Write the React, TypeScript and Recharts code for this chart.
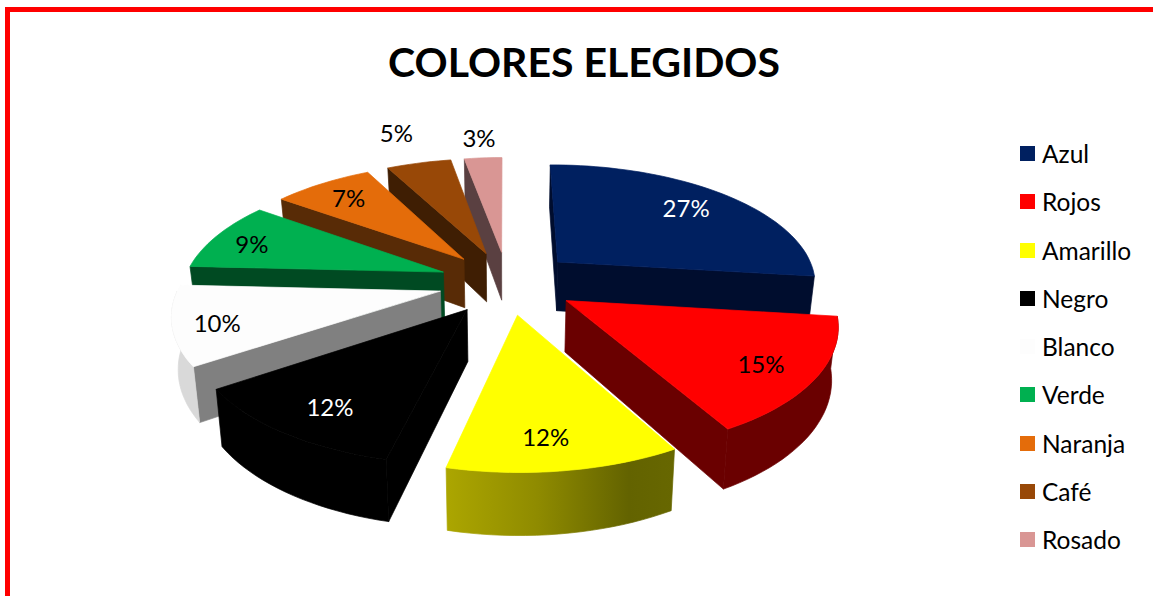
import { PieChart, Pie, Legend } from 'recharts';

const FONT = 'Lato, "Open Sans", sans-serif';

// legend order
const categories = ['Azul', 'Rojos', 'Amarillo', 'Negro', 'Blanco', 'Verde', 'Naranja', 'Café', 'Rosado'];
// shares; the labels show them rounded
const shares = [27, 15, 11.7, 11.9, 10.3, 9.2, 7.4, 4.8, 2.8];
const topColors = ['#002060', '#ff0000', '#ffff00', '#000000', '#fdfdfd', '#00b050', '#e46c0a', '#984807', '#d99694'];
const wallColors = ['#000d2e', '#6a0000', 'url(#yellowWall)', '#000000', '#808080', '#004a22', '#582b06', '#3f1e03', '#5a4041'];
const outerWallColors = ['#000d2e', '#6a0000', 'url(#yellowWall)', '#000000', '#d9d9d9', '#004a22', '#582b06', '#3f1e03', '#5a4041'];
const labelColors = ['#ffffff', '#000000', '#000000', '#ffffff', '#000000', '#000000', '#000000', '#000000', '#000000'];
// label distance from the pie centre, in radii (5% and 3% sit outside the pie)
const labelRadii = [1.04, 1.07, 1.07, 1.06, 1.105, 1.095, 1.06, 1.67, 1.53];
const labelTurns = [-1, 1, 1.5, -1, -1, -1, 0, 0, 0];

// slices are painted back to front, so the pie walks counter-clockwise from the end of Azul
const drawOrder = [0, 8, 7, 6, 5, 4, 3, 2, 1];
const pieData = drawOrder.map((i) => ({
  name: categories[i],
  value: shares[i],
  top: topColors[i],
  wall: wallColors[i],
  outerWall: outerWallColors[i],
  labelColor: labelColors[i],
  labelRadius: labelRadii[i],
  labelTurn: labelTurns[i],
}));

// 3D view
const TILT_Y = 0.459; // vertical squash of the disc
const PERSPECTIVE = 0.164;
const EXPLODE = 0.265;
const DEPTH = 50;
const BOTTOM_SHRINK = 0.98;

type Pt = [number, number];

// u, v are disc coordinates in radii: u to the right, v towards the viewer
function project(cx: number, cy: number, r: number, u: number, v: number): Pt {
  const s = 1 / (1 - PERSPECTIVE * v);
  return [cx + r * u * s, cy + r * TILT_Y * v * s];
}

function lower(cx: number, v: number, p: Pt): Pt {
  const s = 1 / (1 - PERSPECTIVE * v);
  return [cx + (p[0] - cx) * BOTTOM_SHRINK, p[1] + DEPTH * s];
}

const toPath = (pts: Pt[]) =>
  pts.map((p, i) => `${i ? 'L' : 'M'}${p[0].toFixed(1)},${p[1].toFixed(1)}`).join('') + 'Z';

const rad = (deg: number) => (deg * Math.PI) / 180;

// clockwise degrees from the top -> disc coordinates
const discU = (t: number) => Math.sin(rad(t));
const discV = (t: number) => -Math.cos(rad(t));

function Slice3D(props: any) {
  const { cx, cy, outerRadius: r, startAngle, endAngle, payload } = props;
  // recharts gives math angles going counter-clockwise; bring them to 0..360 clockwise
  const shift = 90 - endAngle < -0.01 ? 360 : 0;
  const t0 = 90 - endAngle + shift;
  const t1 = 90 - startAngle + shift;
  const mid = (t0 + t1) / 2;
  const ou = EXPLODE * discU(mid);
  const ov = EXPLODE * discV(mid);

  const pointAt = (t: number): [number, number] => [ou + discU(t), ov + discV(t)];
  const prj = (uv: [number, number]) => project(cx, cy, r, uv[0], uv[1]);

  const tip = prj([ou, ov]);
  const tipLow = lower(cx, ov, tip);
  const arc: Pt[] = [];
  for (let t = t0; t < t1; t += 2) arc.push(prj(pointAt(t)));
  arc.push(prj(pointAt(t1)));

  const radialWall = (t: number) => {
    const uv = pointAt(t);
    const p = prj(uv);
    return toPath([tip, p, lower(cx, uv[1], p), tipLow]);
  };

  // outer wall only where the rim faces the viewer
  const a = Math.max(t0, 90);
  const b = Math.min(t1, 270);
  let outer = '';
  if (a < b) {
    const rimTop: Pt[] = [];
    const rimLow: Pt[] = [];
    for (let t = a; ; t += 2) {
      const tt = Math.min(t, b);
      const uv = pointAt(tt);
      const p = prj(uv);
      rimTop.push(p);
      rimLow.unshift(lower(cx, uv[1], p));
      if (tt >= b) break;
    }
    outer = toPath([...rimTop, ...rimLow]);
  }

  // thin strokes close the antialiasing seams between the faces
  return (
    <g strokeWidth={0.7} strokeLinejoin="round">
      {discV(t0 - 90) > 0 && <path d={radialWall(t0)} fill={payload.wall} stroke={payload.wall} />}
      {discV(t1 + 90) > 0 && <path d={radialWall(t1)} fill={payload.wall} stroke={payload.wall} />}
      {outer && <path d={outer} fill={payload.outerWall} stroke={payload.outerWall} />}
      <path d={toPath([tip, ...arc])} fill={payload.top} stroke={payload.top} />
    </g>
  );
}

function SliceLabel(props: any) {
  const { cx, cy, outerRadius: r, midAngle, payload } = props;
  const t = 90 - midAngle + payload.labelTurn;
  const d = payload.labelRadius;
  const p = project(cx, cy, r, d * discU(t), d * discV(t));
  return (
    <text
      x={p[0]}
      y={p[1]}
      textAnchor="middle"
      dominantBaseline="central"
      fontFamily={FONT}
      fontSize={24}
      fill={payload.labelColor}
    >
      {`${Math.round(payload.value)}%`}
    </text>
  );
}

function LegendList() {
  return (
    <div style={{ fontFamily: FONT, fontSize: 24.5, color: '#000' }}>
      {categories.map((name, i) => (
        <div key={name} style={{ height: 48.25, display: 'flex', alignItems: 'center' }}>
          <span style={{ width: 15, height: 15, background: topColors[i], marginRight: 7, flex: 'none' }} />
          <span>{name}</span>
        </div>
      ))}
    </div>
  );
}

export default function App() {
  return (
    <div style={{ position: 'absolute', left: 0, top: 0, width: 1153, height: 596, overflow: 'hidden', background: '#fff' }}>
      <div
        style={{
          position: 'absolute',
          left: 5,
          top: 7,
          width: 1200,
          height: 700,
          borderLeft: '5px solid #ff0000',
          borderTop: '5px solid #ff0000',
        }}
      />
      <PieChart
        width={1153}
        height={596}
        margin={{ top: 0, right: 0, bottom: 0, left: 0 }}
        style={{ position: 'absolute', left: 0, top: 0 }}
      >
        <defs>
          <linearGradient id="yellowWall" x1="0" y1="0" x2="1" y2="0">
            <stop offset="0" stopColor="#aca600" />
            <stop offset="0.4" stopColor="#8f8b00" />
            <stop offset="0.8" stopColor="#636300" />
            <stop offset="1" stopColor="#676700" />
          </linearGradient>
        </defs>
        <text
          x={584}
          y={61}
          textAnchor="middle"
          dominantBaseline="central"
          fontFamily={FONT}
          fontSize={41}
          fontWeight={700}
          fill="#000"
        >
          COLORES ELEGIDOS
        </text>
        <Pie
          data={pieData}
          dataKey="value"
          nameKey="name"
          cx={507.5}
          cy={282.5}
          innerRadius={0}
          outerRadius={260}
          startAngle={-7}
          endAngle={353}
          paddingAngle={0}
          stroke="none"
          shape={Slice3D}
          label={SliceLabel}
          labelLine={false}
          isAnimationActive={false}
        />
        <Legend
          layout="vertical"
          align="right"
          verticalAlign="top"
          wrapperStyle={{ left: 1020, top: 129.5, width: 133, right: 'auto' }}
          content={LegendList}
        />
      </PieChart>
    </div>
  );
}
